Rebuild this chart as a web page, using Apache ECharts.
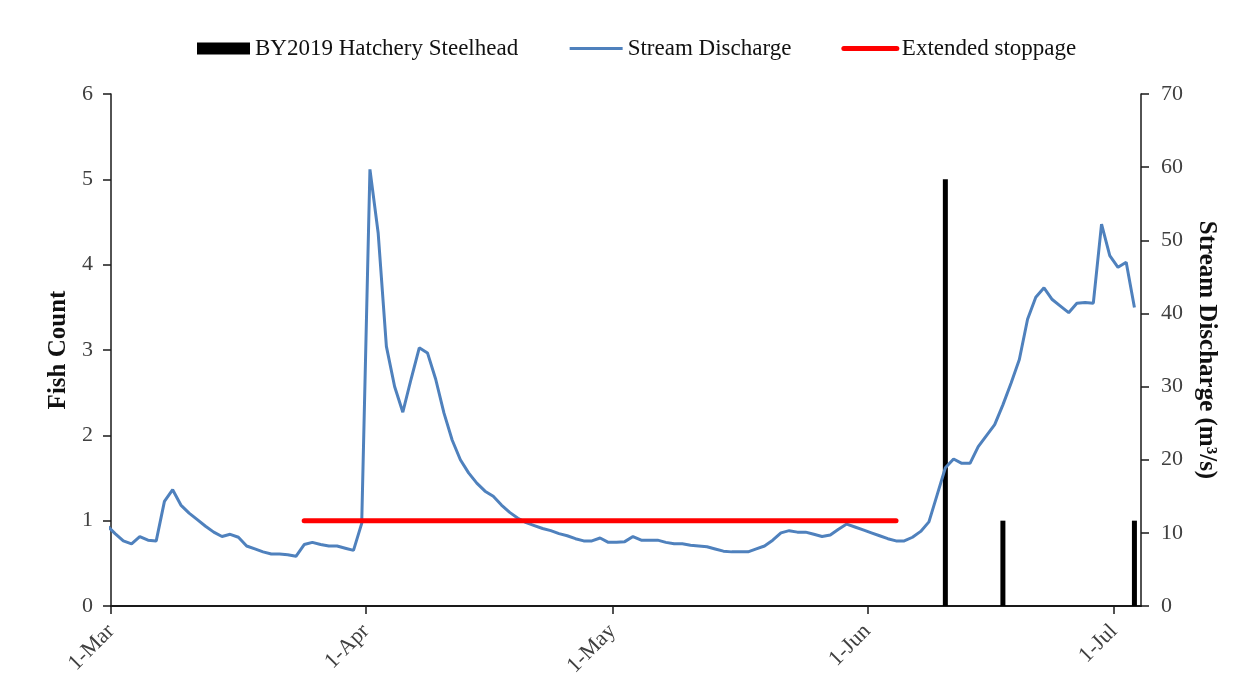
<!DOCTYPE html>
<html>
<head>
<meta charset="utf-8">
<script src="https://cdn.jsdelivr.net/npm/echarts@6/dist/echarts.min.js"></script>
<style>
  html, body { margin: 0; padding: 0; background: #fff; }
  #chart { width: 1244px; height: 693px; }
</style>
</head>
<body>
<div id="chart"></div>
<script>
// Daily mean stream discharge (m3/s), one value per day starting 29-Feb-2020
const dischargeStart = '2020-02-29';
const discharge = [
  11.0,
  9.9, 8.9, 8.5, 9.5, 9.0, 8.9, 14.3, 15.9, 13.8, 12.7,
  11.8, 10.9, 10.1, 9.5, 9.8, 9.4, 8.2, 7.8, 7.4, 7.1,
  7.1, 7.0, 6.8, 8.4, 8.7, 8.4, 8.2, 8.2, 7.9, 7.6,
  11.3,
  59.7, 51.0, 35.5, 30.0, 26.5, 31.0, 35.3, 34.6, 31.0, 26.4,
  22.7, 20.0, 18.2, 16.8, 15.7, 15.0, 13.8, 12.8, 12.0, 11.4,
  11.0, 10.6, 10.3, 9.9, 9.6, 9.2, 8.9, 8.9, 9.3, 8.7,
  8.7, 8.8, 9.5, 9.0, 9.0, 9.0, 8.7, 8.5, 8.5, 8.3,
  8.2, 8.1, 7.8, 7.5, 7.4, 7.4, 7.4, 7.8, 8.2, 9.0,
  10.0, 10.3, 10.1, 10.1, 9.8, 9.5, 9.7, 10.5, 11.2, 10.8,
  10.4,
  10.0, 9.6, 9.2, 8.9, 8.9, 9.4, 10.2, 11.5, 15.2, 18.9,
  20.1, 19.5, 19.5, 21.8, 23.3, 24.8, 27.5, 30.5, 33.7, 39.2,
  42.2, 43.5, 41.9, 41.0, 40.1, 41.4, 41.5, 41.4, 52.2, 47.9,
  46.3, 47.0, 40.8
];

// BY2019 hatchery steelhead captures
const fishDates = ['2020-06-10', '2020-06-17', '2020-07-03'];
const fishCounts = [5, 1, 1];

// Extended trap stoppage period (drawn at a count of 1)
const stoppageDates = ['2020-03-24', '2020-06-04'];
const stoppageLevel = 1;

// Month tick marks and their labels
const monthTickDates = ['2020-03-01', '2020-04-01', '2020-05-01', '2020-06-01', '2020-07-01'];
const monthTickLabels = ['1-Mar', '1-Apr', '1-May', '1-Jun', '1-Jul'];

const axisStart = '2020-03-01';
const axisEndDays = 125.3;

const DAY = 86400000;
function dayOffset(s) {
  const [y, m, d] = s.split('-').map(Number);
  const [y0, m0, d0] = axisStart.split('-').map(Number);
  return (Date.UTC(y, m - 1, d) - Date.UTC(y0, m0 - 1, d0)) / DAY;
}
// each day occupies a slot; marks sit in the middle of their day
const slot = s => dayOffset(s) + 0.5;

const firstDay = dayOffset(dischargeStart);
const dischargeData = discharge.map((v, i) => [firstDay + i + 0.5, v]);
const fishData = fishDates.map((d, i) => [slot(d), fishCounts[i]]);
const stoppageData = stoppageDates.map(d => [slot(d), stoppageLevel]);
const tickValues = monthTickDates.map(dayOffset);

const FONT = 'Liberation Serif';
const axisColor = '#1a1a1a';
const labelColor = '#404040';
const noMarker = { color: 'rgba(0,0,0,0)', borderWidth: 0, opacity: 0 };

const chart = echarts.init(document.getElementById('chart'), null, { renderer: 'canvas' });
chart.setOption({
  animation: false,
  backgroundColor: '#ffffff',
  textStyle: { fontFamily: FONT },
  legend: {
    top: 32,
    left: 192,
    itemWidth: 53,
    itemHeight: 12,
    itemGap: 50,
    textStyle: { fontFamily: FONT, fontSize: 23, color: '#111' },
    data: [
      { name: 'BY2019 Hatchery Steelhead', icon: 'rect' },
      { name: 'Stream Discharge', itemStyle: noMarker, lineStyle: { width: 3, color: '#4F81BD' } },
      { name: 'Extended stoppage', itemStyle: noMarker, lineStyle: { width: 5, color: '#FF0000' } }
    ]
  },
  grid: { left: 111, right: 103, top: 94, bottom: 87 },
  xAxis: {
    type: 'value',
    min: 0,
    max: axisEndDays,
    splitLine: { show: false },
    axisLine: { show: true, lineStyle: { color: axisColor, width: 2 } },
    axisTick: {
      show: true, customValues: tickValues, length: 8, inside: false,
      lineStyle: { color: axisColor, width: 1.5 }
    },
    axisLabel: {
      customValues: tickValues,
      rotate: 45,
      margin: 22,
      fontFamily: FONT,
      fontSize: 22,
      color: labelColor,
      formatter: v => monthTickLabels[tickValues.indexOf(v)] || ''
    }
  },
  yAxis: [
    {
      type: 'value', min: 0, max: 6, interval: 1,
      position: 'left',
      name: 'Fish Count',
      nameLocation: 'middle',
      nameGap: 38,
      nameTextStyle: { fontFamily: FONT, fontSize: 25, fontWeight: 'bold', color: '#111' },
      splitLine: { show: false },
      axisLine: { show: true, lineStyle: { color: axisColor, width: 1.5 } },
      axisTick: { show: true, length: 8, lineStyle: { color: axisColor, width: 1.5 } },
      axisLabel: { margin: 18, fontFamily: FONT, fontSize: 22, color: labelColor }
    },
    {
      type: 'value', min: 0, max: 70, interval: 10,
      position: 'right',
      name: 'Stream Discharge (m³/s)',
      nameLocation: 'middle',
      nameRotate: -90,
      nameGap: 48,
      nameTextStyle: { fontFamily: FONT, fontSize: 25, fontWeight: 'bold', color: '#111' },
      splitLine: { show: false },
      axisLine: { show: true, lineStyle: { color: axisColor, width: 1.5 } },
      axisTick: { show: true, length: 8, lineStyle: { color: axisColor, width: 1.5 } },
      axisLabel: { margin: 20, fontFamily: FONT, fontSize: 22, color: labelColor }
    }
  ],
  series: [
    {
      name: 'BY2019 Hatchery Steelhead',
      type: 'bar',
      yAxisIndex: 0,
      barWidth: 5,
      itemStyle: { color: '#000000' },
      data: fishData
    },
    {
      name: 'Stream Discharge',
      type: 'line',
      yAxisIndex: 1,
      symbol: 'none',
      clip: true,
      lineStyle: { color: '#4F81BD', width: 3 },
      itemStyle: { color: '#4F81BD' },
      data: dischargeData
    },
    {
      name: 'Extended stoppage',
      type: 'line',
      yAxisIndex: 0,
      symbol: 'none',
      lineStyle: { color: '#FF0000', width: 5, cap: 'round' },
      itemStyle: { color: '#FF0000' },
      data: stoppageData
    }
  ]
});
</script>
</body>
</html>
